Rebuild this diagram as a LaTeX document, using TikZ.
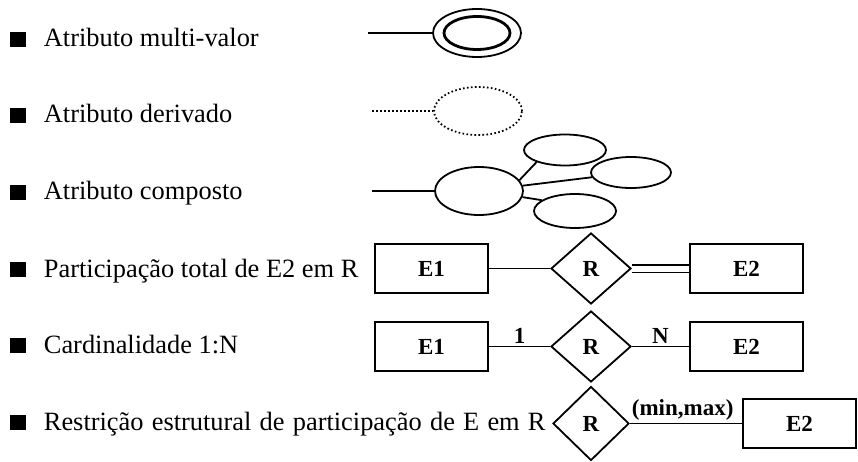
\documentclass[tikz,border=0pt]{standalone}
\usepackage{fontspec}
\setmainfont{Liberation Serif}
\usetikzlibrary{positioning,shapes.geometric}

\begin{document}
\begin{tikzpicture}[x=1pt,y=-1pt,line width=1.8pt,
   attr/.style={draw,ellipse,minimum width=88pt,minimum height=48pt,inner sep=0pt},
   derivado/.style={dash pattern=on 1.6pt off 2.4pt},
   entidade/.style={draw,rectangle,minimum width=113pt,minimum height=49pt,inner sep=0pt,
      font=\bfseries\fontsize{23}{26}\selectfont},
   relac/.style={draw,diamond,minimum width=80pt,minimum height=71pt,inner sep=0pt,
      font=\bfseries\fontsize{23}{26}\selectfont},
   card/.style={above,inner sep=2pt,font=\bfseries\fontsize{23}{26}\selectfont},
   bala/.style={fill=black,minimum width=16pt,minimum height=15pt,inner sep=0pt},
   rotulo/.style={anchor=base west,inner sep=0pt,font=\fontsize{26.4}{30}\selectfont}]
   \useasboundingbox (0,0) rectangle (858,462);

   % legend
   \node[bala] (b_1) at (17.5,39.5) {};
   \node[bala] (b_2) at (17.5,115.5) {};
   \node[bala] (b_3) at (17.5,192.5) {};
   \node[bala] (b_4) at (17.5,269.5) {};
   \node[bala] (b_5) at (17.5,345.5) {};
   \node[bala] (b_6) at (17.5,422.5) {};
   \node[rotulo] (t_1) at (43,47) {Atributo multi-valor};
   \node[rotulo] (t_2) at (43,123) {Atributo derivado};
   \node[rotulo] (t_3) at (43,200) {Atributo composto};
   \node[rotulo] (t_4) at (43,277) {Participação total de E2 em R};
   \node[rotulo] (t_5) at (43,353) {Cardinalidade 1:N};
   \node[rotulo] (t_6) at (43,430) {\spaceskip=8.2pt\relax Restrição estrutural de participação de E em R};

   % atributos
   \node[attr] (m_1) at (477,33) {};
   \node[attr,minimum width=66pt,minimum height=33pt,line width=2.8pt] (m_2) at (477,33) {};
   \coordinate (a_1) at (368,33);
   \draw (a_1) -- (m_1);

   \node[attr,derivado] (d_1) at (478,111) {};
   \coordinate (a_2) at (372,111);
   \draw[derivado] (a_2) -- (d_1);

   \node[attr] (c_1) at (479,191) {};
   \node[attr,minimum width=82pt,minimum height=31pt] (c_2) at (565,150) {};
   \node[attr,minimum width=80pt,minimum height=31pt] (c_3) at (631,172.5) {};
   \node[attr,minimum width=82pt,minimum height=34pt] (c_4) at (575,211) {};
   \coordinate (a_3) at (372,191);
   \draw (a_3) -- (c_1);
   \draw (c_1.15) -- (c_2.203);
   \draw (c_1) -- (c_3);
   \draw (c_1.-8) -- (c_4.162);

   % relacionamentos
   \node[entidade] (e_1) at (431.5,268.5) {E1};
   \node[relac] (r_1) at (591,268.5) {R};
   \node[entidade] (e_2) at (746.5,268.5) {E2};
   \draw (e_1) -- (r_1);
   \draw[double,double distance=6pt] (r_1) -- (e_2);

   \node[entidade] (e_3) at (431.5,346.5) {E1};
   \node[relac] (r_2) at (591,346.5) {R};
   \node[entidade] (e_4) at (746.5,346.5) {E2};
   \path
    (e_3) edge node[card] {1} (r_2)
    (r_2) edge node[card] {N} (e_4);

   \node[relac,minimum width=76pt,minimum height=74pt] (r_3) at (591,423.5) {R};
   \node[entidade] (e_5) at (799.5,423.5) {E2};
   \path (r_3) edge node[card,pos=0.47] {(min,max)} (e_5);
\end{tikzpicture}
\end{document}
